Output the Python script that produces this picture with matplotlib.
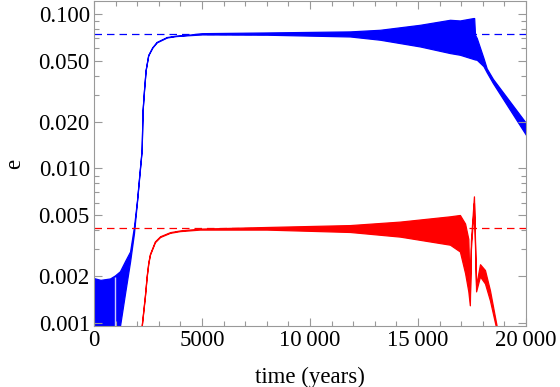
import matplotlib.pyplot as plt
from matplotlib.ticker import FixedLocator, NullFormatter, FuncFormatter

plt.rcParams['font.family'] = ['Liberation Serif', 'DejaVu Serif']

# outer envelope (max / min) of the fast oscillation
blue_t = [0, 300, 740, 970, 1200, 1435, 1670, 1850, 1990, 2100, 2205, 2250,
          2315, 2390, 2510, 2700, 2900, 3370, 3800, 4300, 5000, 8000, 11850,
          13240, 15090, 16480, 16940, 17560, 17600, 17640, 17720, 18030,
          18180, 18470, 20000]
blue_hi = [0.00195, 0.0019, 0.00194, 0.00203, 0.00216, 0.00251, 0.0029,
           0.0042, 0.0062, 0.0092, 0.0132, 0.0239, 0.0322, 0.0434, 0.0543,
           0.061, 0.066, 0.071, 0.0725, 0.0733, 0.0752, 0.0760, 0.0772, 0.0791,
           0.0852, 0.0918, 0.0909, 0.0942, 0.0942, 0.0735, 0.0700, 0.052,
           0.0445, 0.038, 0.0197]
blue_lo = [0.0008, 0.0008, 0.0008, 0.0008, 0.00095, 0.00155, 0.0025,
           0.0038, 0.0061, 0.0090, 0.0130, 0.0237, 0.0320, 0.0432, 0.0540,
           0.0606, 0.0655, 0.0705, 0.0720, 0.0728, 0.0738, 0.0735, 0.0716,
           0.0682, 0.0617, 0.0559, 0.0545, 0.0512, 0.0510, 0.0508, 0.0506,
           0.046, 0.042, 0.0357, 0.0165]
blue_gap_t = [960]

red_t = [2205, 2300, 2360, 2440, 2515, 2590, 2820, 3060, 3520, 3980, 4900,
         8000, 11850, 14170, 16480, 16940, 17180, 17330, 17400, 17450, 17590,
         17690, 17870, 18100, 18330, 18640, 18700]
red_hi = [0.00095, 0.00127, 0.00152, 0.00202, 0.00247, 0.0028, 0.00337,
          0.00364, 0.00387, 0.00397, 0.00408, 0.00418, 0.0043, 0.00453,
          0.0049, 0.0050, 0.0044, 0.0035, 0.0015, 0.0034, 0.0066, 0.00175,
          0.0024, 0.0022, 0.00163, 0.00096, 0.0009]
red_lo = [0.00094, 0.00125, 0.00150, 0.00199, 0.00243, 0.00276, 0.00333,
          0.0036, 0.00383, 0.00393, 0.00402, 0.00402, 0.00388, 0.00362,
          0.00321, 0.0029, 0.0021, 0.0016, 0.0013, 0.0030, 0.0060, 0.0016,
          0.0020, 0.0018, 0.0014, 0.0009, 0.0009]

blue_final = 0.0746
red_final = 0.00412

fig = plt.figure(figsize=(5.6, 3.87), dpi=100)
ax = fig.add_axes([94 / 560, 1 - 326 / 387, 432 / 560, 325 / 387])

ax.fill_between(blue_t, blue_lo, blue_hi, color='#0000ff', lw=0.9, edgecolor='#0000ff')
ax.vlines(blue_gap_t, 0.0009, 0.00198, color='#c8c8ff', lw=1.0)
ax.fill_between(red_t, red_lo, red_hi, color='#ff0000', lw=0.9, edgecolor='#ff0000')
ax.axhline(blue_final, color='#0000ff', ls=(0, (6, 4)), lw=0.9)
ax.axhline(red_final, color='#ff0000', ls=(0, (6, 4)), lw=0.9)

ax.set_yscale('log')
ax.set_xlim(0, 20000)
ax.set_ylim(0.000955, 0.1215)

yt = [0.001, 0.002, 0.005, 0.010, 0.020, 0.050, 0.100]
ax.yaxis.set_major_locator(FixedLocator(yt))
ax.yaxis.set_major_formatter(FuncFormatter(lambda v, p: f"{v:.3f}"))
minor_y = [k * 10.0 ** e for e in (-3, -2, -1) for k in range(2, 10)]
ax.yaxis.set_minor_locator(FixedLocator(minor_y))
ax.yaxis.set_minor_formatter(NullFormatter())

ax.set_xticks([0, 5000, 10000, 15000, 20000])
ax.set_xticklabels(['0', '5000', '10\u2009000', '15\u2009000', '20\u2009000'])
ax.set_xticks(range(0, 20001, 1000), minor=True)

for s in ax.spines.values():
    s.set_color('#999999')
    s.set_linewidth(0.8)
ax.tick_params(which='both', direction='in', top=True, right=True,
               color='#999999', labelsize=16.5, width=0.8)
ax.tick_params(which='major', length=6, pad=3)
ax.tick_params(which='minor', length=3.5)

ax.set_xlabel('time (years)', fontsize=16.5, labelpad=11)
ax.set_ylabel('e', fontsize=16.5, labelpad=10)

fig.savefig('out.png', dpi=100)
